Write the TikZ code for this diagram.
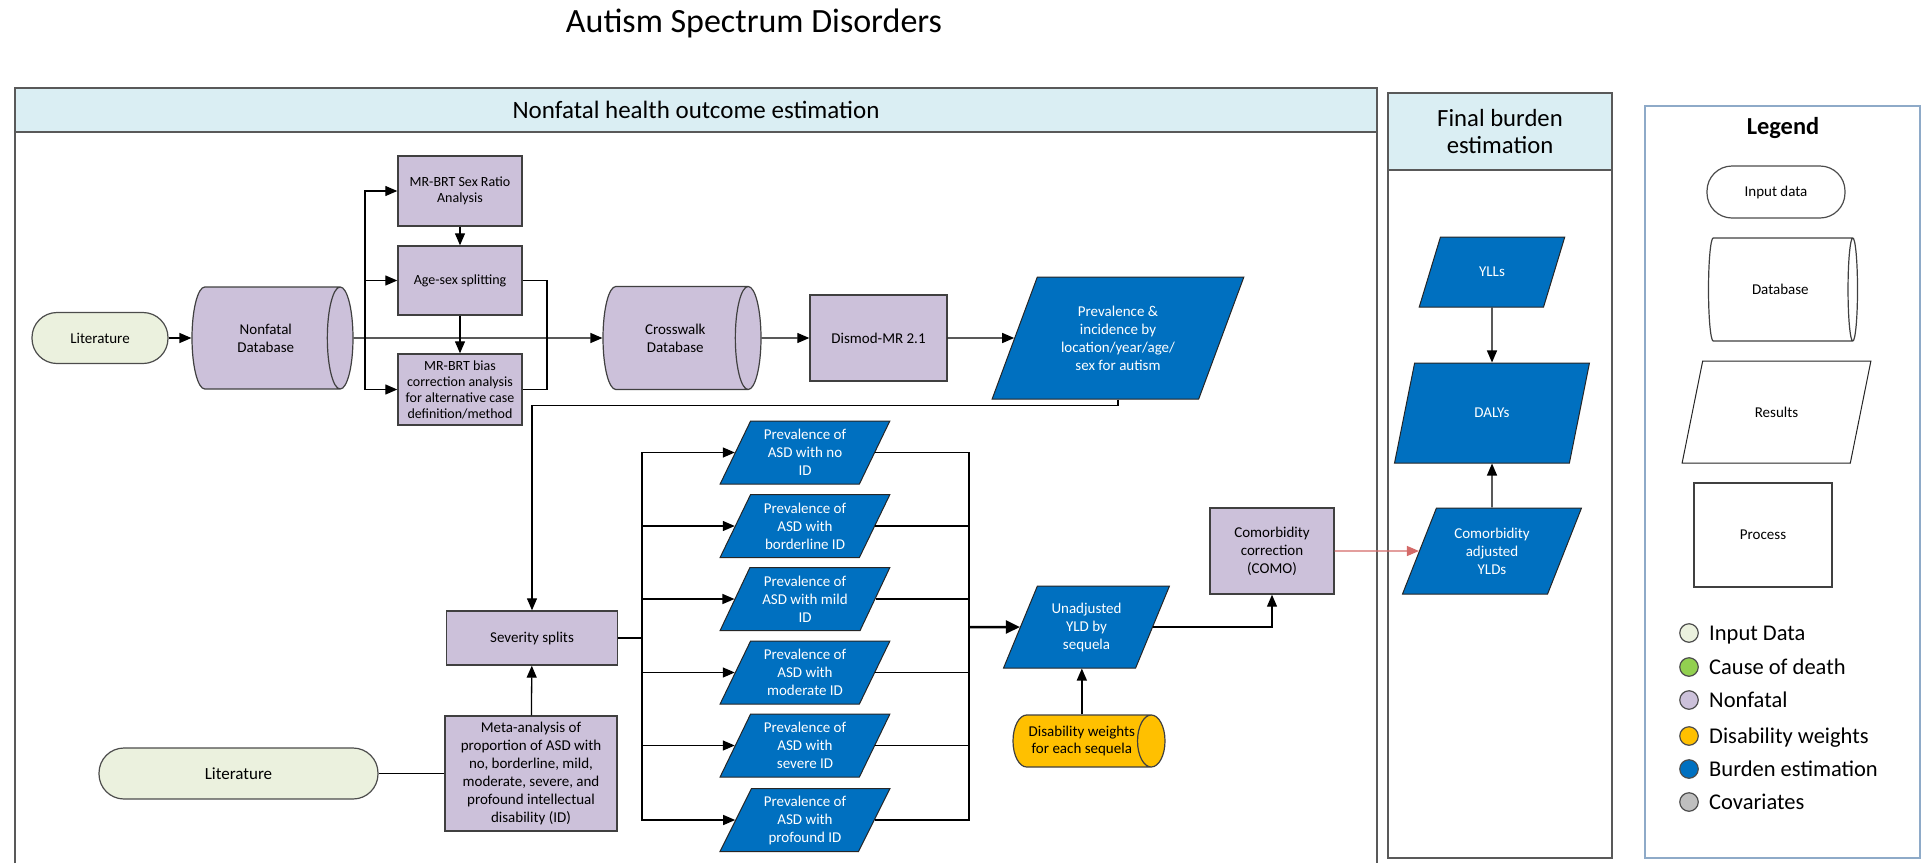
\documentclass[tikz,border=0pt]{standalone}
\usepackage{fontspec}
\setmainfont{Carlito}
\usepackage{tikz}
\usetikzlibrary{shapes.geometric,arrows.meta}

\definecolor{nonfatal}{HTML}{CCC1DA}
\definecolor{inputdata}{HTML}{EBF1DE}
\definecolor{burden}{HTML}{0070C0}
\definecolor{dweight}{HTML}{FFC000}
\definecolor{causedeath}{HTML}{92D050}
\definecolor{covar}{HTML}{BFBFBF}
\definecolor{header}{HTML}{DAEEF3}
\definecolor{frameline}{HTML}{595959}
\definecolor{legline}{HTML}{8EAAC8}
\definecolor{redarrow}{HTML}{D46A68}

\begin{document}
\begin{tikzpicture}[x=1pt,y=-1pt,
  procbox/.style={draw=black!75,line width=1.4pt,fill=nonfatal,align=center,inner sep=2pt,font=\fontsize{15}{18}\selectfont},
  smallbox/.style={procbox,font=\fontsize{14}{16}\selectfont},
  dbase/.style={cylinder,shape aspect=0.9,anchor=shape center,draw=black!75,line width=1.2pt,fill=nonfatal,align=center,inner sep=0pt,font=\fontsize{15}{18}\selectfont},
  inpill/.style={draw=black!70,line width=1.2pt,fill=inputdata,rounded corners=25pt,align=center,font=\fontsize{15}{18}\selectfont},
  result/.style={trapezium,trapezium left angle=64,trapezium right angle=116,trapezium stretches=true,draw=black!85,line width=1pt,fill=burden,text=white,align=center,inner sep=1pt,font=\fontsize{15}{18}\selectfont},
  arr/.style={line width=1.3pt,-{Triangle[length=12pt,width=10pt]}},
  con/.style={line width=1.3pt},
  panel/.style={draw=frameline,line width=1.8pt},
  dot/.style={circle,draw=black!70,line width=1.2pt,minimum size=18.5pt,inner sep=0pt},
  leg/.style={anchor=base west,inner sep=0pt,font=\fontsize{22.5}{26}\selectfont}
]
\useasboundingbox (0,0) rectangle (1925,863);

% title and frames
\node[anchor=base,font=\fontsize{34}{40}\selectfont] (title) at (754,32) {Autism Spectrum Disorders};

\fill[header] (15,88) rectangle (1377,132);
\draw[panel] (15,863) -- (15,88) -- (1377,88) -- (1377,863);
\draw[panel] (15,132) -- (1377,132);
\node[anchor=base,font=\fontsize{25}{30}\selectfont] (nfhead) at (696,118) {Nonfatal health outcome estimation};

\fill[header] (1388,93) rectangle (1612,170);
\draw[panel] (1388,93) rectangle (1612,858);
\draw[panel] (1388,170) -- (1612,170);
\node[align=center,font=\fontsize{24.7}{27}\selectfont] (fbhead) at (1500,132) {Final burden\\estimation};

\draw[legline,line width=1.5pt] (1645,106) rectangle (1920,858);
\node[anchor=base,font=\bfseries\fontsize{24.4}{28}\selectfont] (legtitle) at (1783,134) {Legend};

% nonfatal part
\node[inpill,minimum width=136pt,minimum height=51pt] (lit1) at (100,338) {Literature};
\node[dbase,minimum height=161pt,minimum width=102pt] (ndb) at (272.5,338) {Nonfatal\\Database};
\node[smallbox,minimum width=124pt,minimum height=70pt] (sexr) at (460,191) {MR-BRT Sex Ratio\\Analysis};
\node[smallbox,minimum width=124pt,minimum height=69pt] (agesex) at (460,280.5) {Age-sex splitting};
\node[smallbox,minimum width=124pt,minimum height=71pt] (bias) at (460,389.5) {MR-BRT bias\\correction analysis\\for alternative case\\definition/method};
\node[dbase,minimum height=158pt,minimum width=103pt] (cwdb) at (682,338) {Crosswalk\\Database};
\node[procbox,minimum width=137pt,minimum height=86pt] (dismod) at (878.5,338) {Dismod-MR 2.1};
\node[result,minimum width=252pt,minimum height=122pt] (previnc) at (1118,338) {Prevalence \&\\incidence by\\location/year/age/\\sex for autism};

\node[procbox,minimum width=171pt,minimum height=54pt] (sev) at (532,638) {Severity splits};
\node[procbox,minimum width=172pt,minimum height=115pt] (meta) at (531,773.5) {Meta-analysis of\\proportion of ASD with\\no, borderline, mild,\\moderate, severe, and\\profound intellectual\\disability (ID)};
\node[inpill,minimum width=279pt,minimum height=51pt,font=\fontsize{17}{20}\selectfont] (lit2) at (238.5,773.5) {Literature};

\foreach \n/\y/\t in {p1/452.5/{ASD with no\\ID}, p2/526/{ASD with\\borderline ID}, p3/599/{ASD with mild\\ID}, p4/672.5/{ASD with\\moderate ID}, p5/745.5/{ASD with\\severe ID}, p6/820/{ASD with\\profound ID}}
  \node[result,minimum width=170pt,minimum height=63pt] (\n) at (805,\y) {Prevalence of\\\t};

\node[result,minimum width=166pt,minimum height=82pt] (yld) at (1086.5,627) {Unadjusted\\YLD by\\sequela};
\node[dbase,fill=dweight,minimum height=152pt,minimum width=52pt,font=\fontsize{15}{17.7}\selectfont] (dw) at (1089,741) {Disability weights\\for each sequela};
\node[procbox,minimum width=124pt,minimum height=86pt] (como) at (1272,551) {Comorbidity\\correction\\(COMO)};

% final burden part
\node[result,minimum width=146pt,minimum height=70pt] (ylls) at (1492,272) {YLLs};
\node[result,trapezium left angle=67.7,trapezium right angle=112.3,minimum width=195pt,minimum height=100pt] (dalys) at (1492,413) {DALYs};
\node[result,minimum width=179pt,minimum height=86pt] (cay) at (1492,551) {Comorbidity\\adjusted\\YLDs};

% connectors
\coordinate (jl) at (365,338);
\coordinate (jr) at (547,338);
\coordinate (sevbus) at (642,638);
\coordinate (yldbus) at (969,627);

\draw[arr] (lit1.east) -- (ndb.west);
\draw[arr] (ndb.east) -- (cwdb.west);
\draw[arr] (jl) |- (sexr.west);
\draw[arr] (jl) |- (agesex.west);
\draw[arr] (jl) |- (bias.west);
\draw[arr] (sexr) -- (agesex);
\draw[arr] (agesex) -- (bias);
\draw[con] (agesex.east) -| (jr);
\draw[con] (bias.east) -| (jr);
\draw[arr] (cwdb.east) -- (dismod.west);
\draw[arr] (dismod.east) -- (previnc.west);
\draw[arr] (previnc.south) -- ++(0,6) -| (sev.north);
\draw[con] (lit2.east) -- (meta.west);
\draw[arr] (meta) -- (sev);
\draw[con] (sev.east) -- (sevbus);
\foreach \n in {p1,p2,p3,p4,p5,p6} {
  \draw[arr] (sevbus) |- (\n.west);
  \draw[con] (\n.east) -| (yldbus);
}
\draw[line width=2.5pt,-{Triangle[length=14pt,width=13pt]}] (yldbus) -- (yld.west);
\draw[arr] (dw.north) -- (dw.north |- yld.south);
\draw[arr] (yld.east) -| (como.south);
\draw[arr,redarrow] (como.east) -- (cay.west);
\draw[arr] (ylls.south) -- (dalys.north);
\draw[arr] (cay.north) -- (dalys.south);

% legend
\node[inpill,fill=white,minimum width=138pt,minimum height=52pt] (ldata) at (1776,192) {Input data};
\node[dbase,fill=white,minimum height=149pt,minimum width=103pt] (ldb) at (1783,289.5) {Database};
\node[result,fill=white,text=black,trapezium left angle=63.2,trapezium right angle=116.8,minimum width=189pt,minimum height=102pt] (lres) at (1776.5,412) {Results};
\node[procbox,fill=white,minimum width=138pt,minimum height=104pt] (lproc) at (1763,535) {Process};

\foreach \y/\c/\t [count=\k] in {633/inputdata/Input Data, 667/causedeath/Cause of death, 700/nonfatal/Nonfatal, 736/dweight/Disability weights, 769/burden/Burden estimation, 802/covar/Covariates} {
  \node[dot,fill=\c] (dot\k) at (1689,\y) {};
  \node[leg] (lab\k) at (1709,\y+7) {\t};
}
\end{tikzpicture}
\end{document}
